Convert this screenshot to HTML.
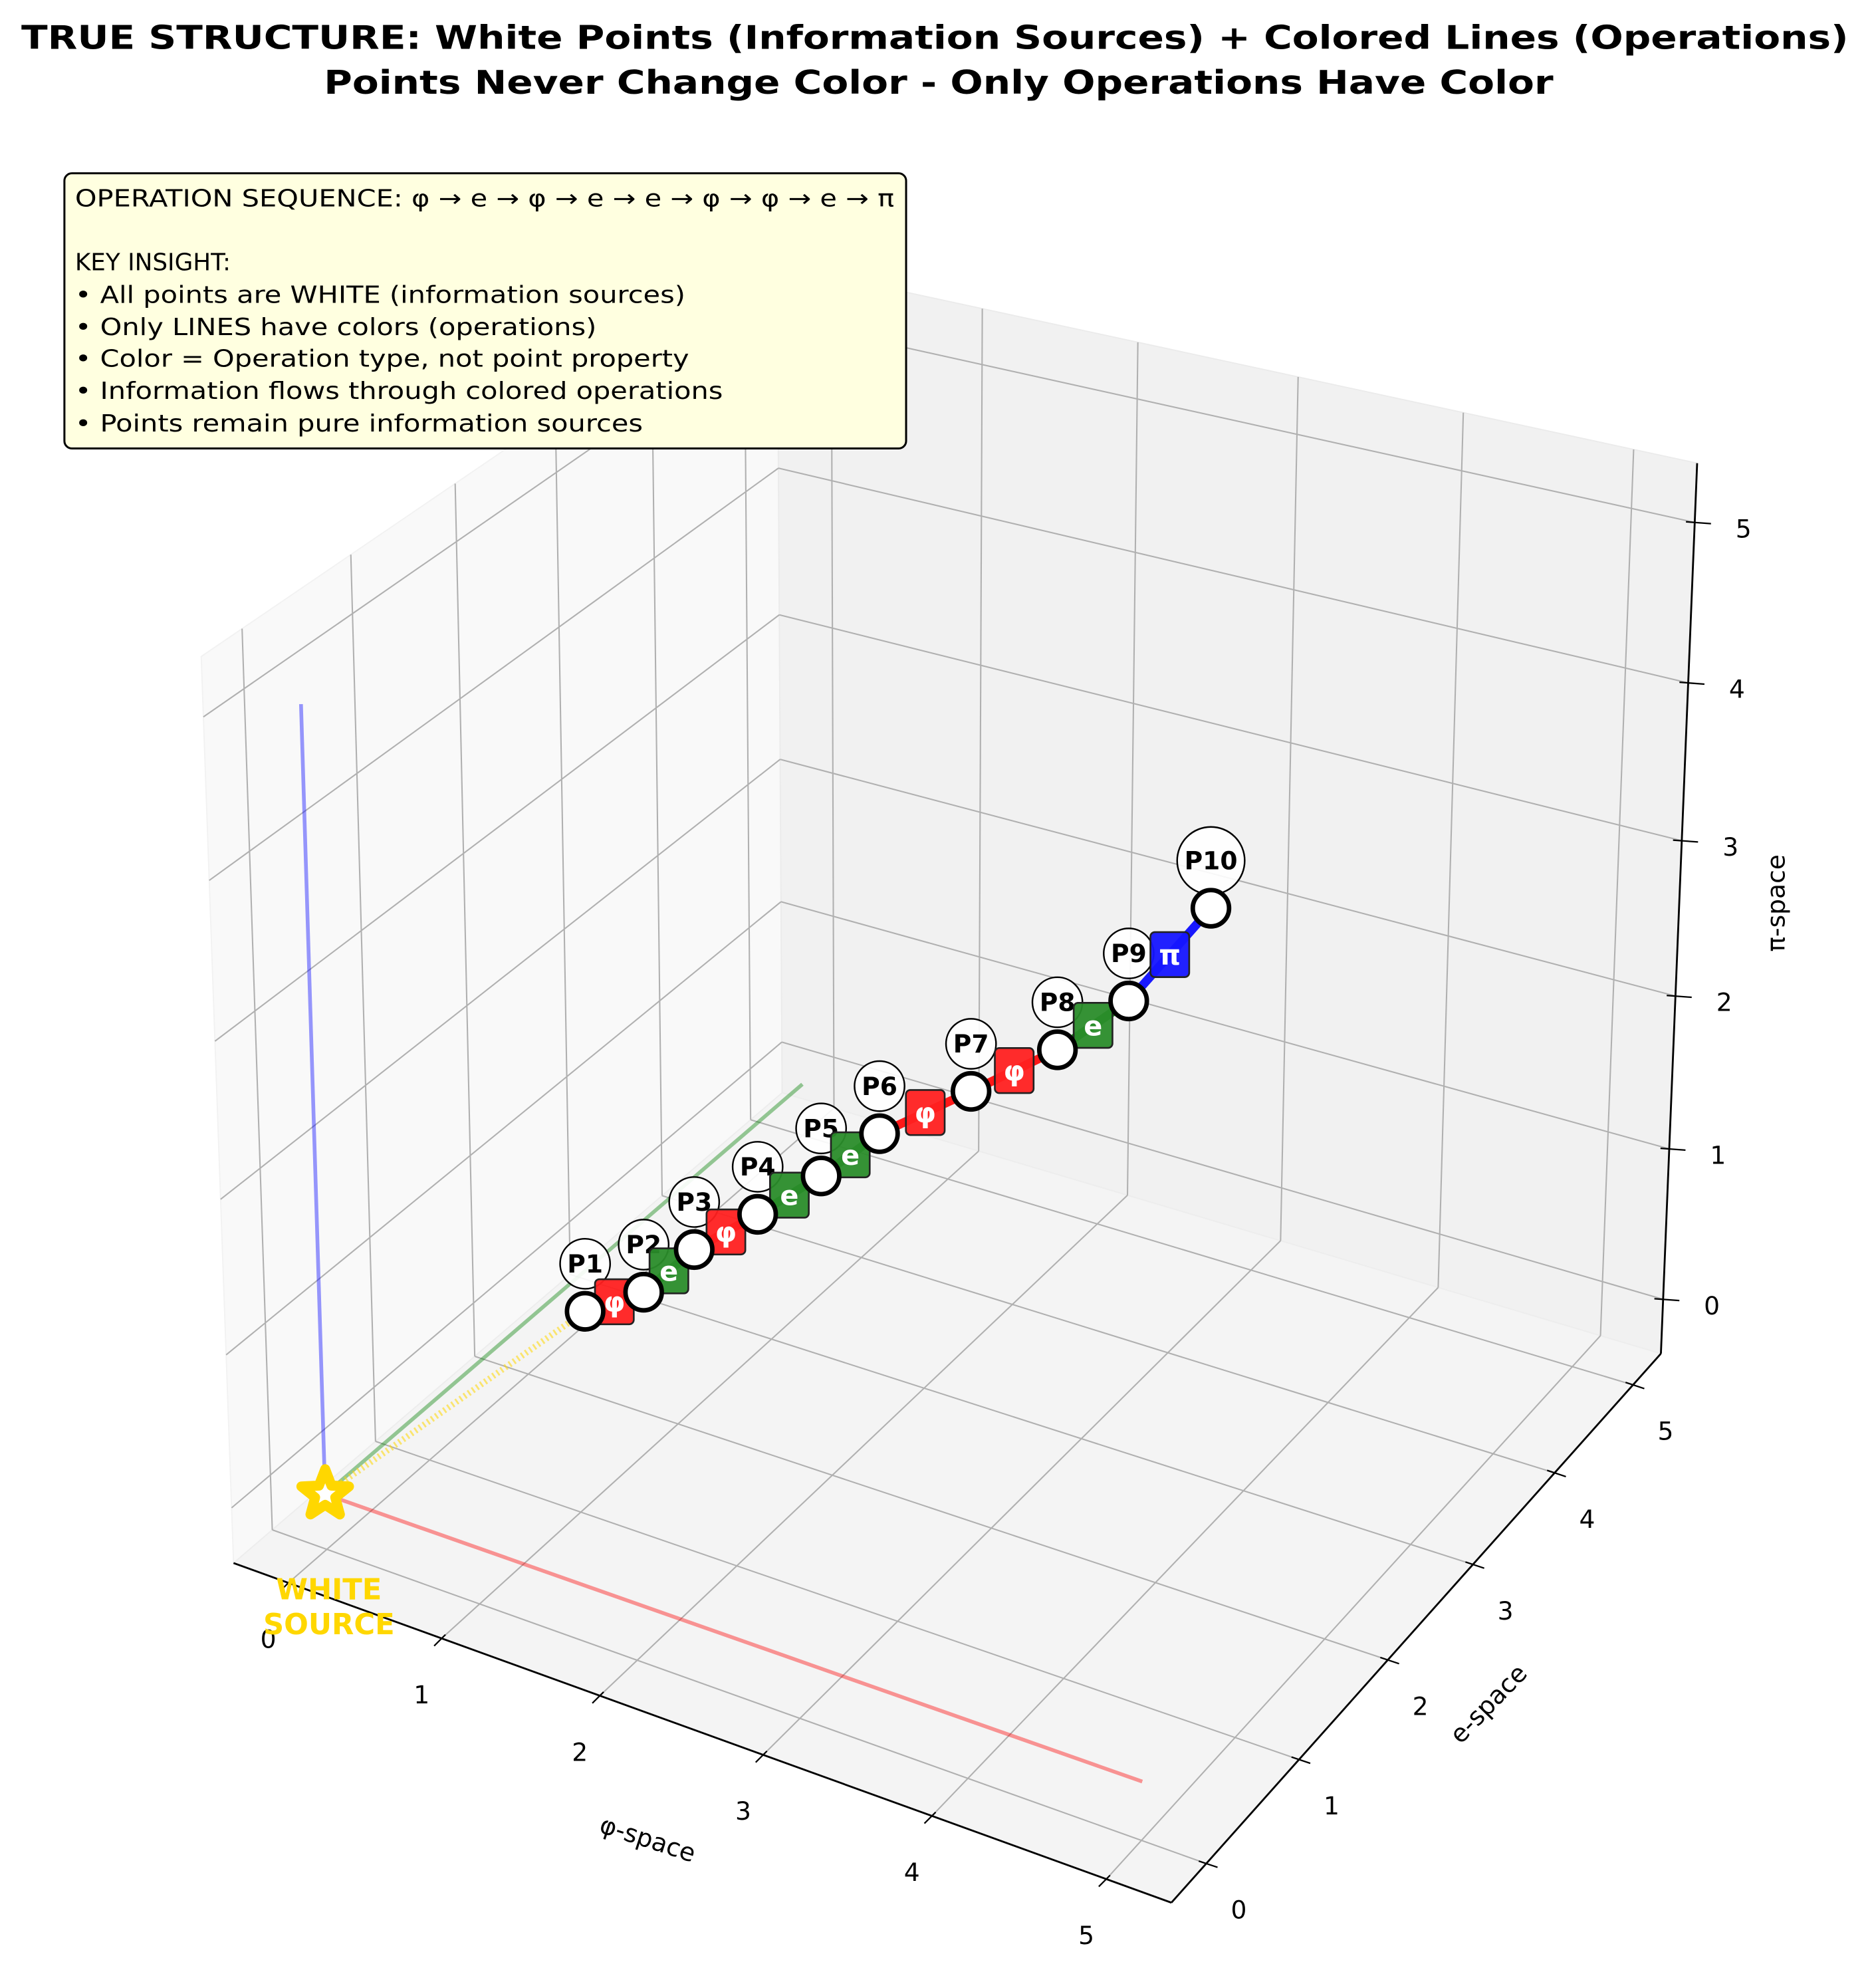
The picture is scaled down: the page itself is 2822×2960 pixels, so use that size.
<!DOCTYPE html>
<html><head><meta charset="utf-8">
<style>
html,body{margin:0;padding:0;background:#fff;}
svg{display:block;font-family:"DejaVu Sans","Liberation Sans",sans-serif;}
</style></head>
<body>
<svg id="chart" xmlns="http://www.w3.org/2000/svg" width="2822" height="2960" viewBox="0 0 1500 1573.3">
<rect x="0" y="0" width="1500" height="1573.3" fill="#ffffff"/>
<text x="17" y="39" font-size="26" font-weight="bold" textLength="1461" lengthAdjust="spacingAndGlyphs">TRUE STRUCTURE: White Points (Information Sources) + Colored Lines (Operations)</text>
<text x="259" y="75" font-size="26" font-weight="bold" textLength="983" lengthAdjust="spacingAndGlyphs">Points Never Change Color - Only Operations Have Color</text>
<g id="plot"></g>
<g>
<rect x="51.5" y="138.5" width="673" height="220" rx="6" ry="6" fill="#ffffe0" stroke="#000" stroke-width="1.6"/>
<text x="60" y="165" font-size="19" textLength="655" lengthAdjust="spacingAndGlyphs">OPERATION SEQUENCE: φ → e → φ → e → e → φ → φ → e → π</text>
<text x="60" y="216" font-size="19">KEY INSIGHT:</text>
<text x="60" y="242" font-size="19" textLength="488" lengthAdjust="spacingAndGlyphs">• All points are WHITE (information sources)</text>
<text x="60" y="268" font-size="19" textLength="417" lengthAdjust="spacingAndGlyphs">• Only LINES have colors (operations)</text>
<text x="60" y="293" font-size="19" textLength="491" lengthAdjust="spacingAndGlyphs">• Color = Operation type, not point property</text>
<text x="60" y="319" font-size="19" textLength="518" lengthAdjust="spacingAndGlyphs">• Information flows through colored operations</text>
<text x="60" y="345" font-size="19" textLength="454" lengthAdjust="spacingAndGlyphs">• Points remain pure information sources</text>
</g>
</svg>
<script>
const tickValues=[0,1,2,3,4,5];
const tickLabels=["0","1","2","3","4","5"];
const pointNames=["P1","P2","P3","P4","P5","P6","P7","P8","P9","P10"];
const phiValues=[1.03,1.26,1.46,1.71,1.96,2.19,2.55,2.89,3.17,3.49];
const eValues=[1.03,1.26,1.46,1.71,1.96,2.19,2.55,2.89,3.17,3.49];
const piValues=[0.95,1.02,1.25,1.42,1.61,1.83,2.02,2.21,2.46,2.98];
const operations=["φ","e","φ","e","e","φ","φ","e","π"];
const axisMin=-0.365, axisMax=5.365;
const refLineEnd=5;

const NS="http://www.w3.org/2000/svg";
const plot=document.getElementById('plot');
function mk(tag,attrs,parent){const el=document.createElementNS(NS,tag);for(const k in attrs)el.setAttribute(k,attrs[k]);(parent||plot).appendChild(el);return el;}

// camera fit (screen anchors of the axes box)
const L=axisMin,H=axisMax;
const anchors=[[L,L,L,190,1263],[H,L,L,932,1507],[H,H,L,1329,1099],[L,H,L,622,848],[L,L,H,158,513],[L,H,H,621,226],[H,H,H,1360,365],[0,0,0,264,1206]];
function solveCam(){
  const A=[],b=[];
  anchors.forEach(([X,Y,Z,u,v])=>{
    A.push([X,Y,Z,1,0,0,0,0,-u*X,-u*Y,-u*Z]);b.push(u);
    A.push([0,0,0,0,X,Y,Z,1,-v*X,-v*Y,-v*Z]);b.push(v);
  });
  const n=11,M=[];
  for(let i=0;i<n;i++){M.push([]);for(let j=0;j<n;j++){let s=0;for(let r=0;r<A.length;r++)s+=A[r][i]*A[r][j];M[i].push(s);}let s=0;for(let r=0;r<A.length;r++)s+=A[r][i]*b[r];M[i].push(s);}
  for(let c=0;c<n;c++){let p=c;for(let r=c+1;r<n;r++)if(Math.abs(M[r][c])>Math.abs(M[p][c]))p=r;[M[c],M[p]]=[M[p],M[c]];
    for(let r=0;r<n;r++){if(r===c)continue;const f=M[r][c]/M[c][c];for(let k=c;k<=n;k++)M[r][k]-=f*M[c][k];}}
  return M.map((row,i)=>row[n]/row[i]);
}
const P=solveCam();
function proj(x,y,z){const w=P[8]*x+P[9]*y+P[10]*z+1;return[(P[0]*x+P[1]*y+P[2]*z+P[3])/w,(P[4]*x+P[5]*y+P[6]*z+P[7])/w];}
function pts(list){return list.map(q=>proj(q[0],q[1],q[2]).map(v=>v.toFixed(2)).join(',')).join(' ');}
function seg(a,b,attrs){const p=proj(...a),q=proj(...b);return mk('line',Object.assign({x1:p[0],y1:p[1],x2:q[0],y2:q[1]},attrs));}

// panes
let el;
el=mk('polygon',{points:pts([[L,L,L],[L,H,L],[L,H,H],[L,L,H]]),fill:'#f9f9f9',stroke:'#f2f2f2','stroke-width':1});


el=mk('polygon',{points:pts([[L,H,L],[H,H,L],[H,H,H],[L,H,H]]),fill:'#f1f1f1',stroke:'#ebebeb','stroke-width':1});


el=mk('polygon',{points:pts([[L,L,L],[H,L,L],[H,H,L],[L,H,L]]),fill:'#f4f4f4',stroke:'#ededed','stroke-width':1});



// grid
const gridAttr={stroke:'#b0b0b0','stroke-width':1.1};
tickValues.forEach(k=>{
  el=seg([k,L,L],[k,H,L],gridAttr);
  
  
  el=seg([L,k,L],[H,k,L],gridAttr);
  
  
  el=seg([L,k,L],[L,k,H],gridAttr);
  
  
  el=seg([L,L,k],[L,H,k],gridAttr);
  
  
  el=seg([k,H,L],[k,H,H],gridAttr);
  
  
  el=seg([L,H,k],[H,H,k],gridAttr);
  
  
});

// axes
const axAttr={stroke:'#000','stroke-width':1.5};
el=seg([L,L,L],[H,L,L],axAttr);


el=seg([H,L,L],[H,H,L],axAttr);


el=seg([H,H,L],[H,H,H],axAttr);



tickValues.forEach((k,i)=>{
  let p=proj(k,L,L);
  el=mk('line',{x1:p[0]+3,y1:p[1]-3,x2:p[0]-6,y2:p[1]+6,stroke:'#000','stroke-width':1.2});
  
  
  el=mk('text',{x:p[0]-16,y:p[1]+52,'font-size':20,'text-anchor':'middle'});
  el.textContent=tickLabels[i];
  
  
  p=proj(H,k,L);
  el=mk('line',{x1:p[0]-6,y1:p[1]-2,x2:p[0]+9,y2:p[1]+3,stroke:'#000','stroke-width':1.2});
  
  
  el=mk('text',{x:p[0]+26,y:p[1]+44,'font-size':20,'text-anchor':'middle'});
  el.textContent=tickLabels[i];
  
  
  p=proj(H,H,k);
  el=mk('line',{x1:p[0]-7,y1:p[1]-0.5,x2:p[0]+13,y2:p[1]+1,stroke:'#000','stroke-width':1.2});
  
  
  el=mk('text',{x:p[0]+39,y:p[1]+12,'font-size':20,'text-anchor':'middle'});
  el.textContent=tickLabels[i];
  
  
});
el=mk('text',{x:518,y:1477,'font-size':20,'text-anchor':'middle',transform:'rotate(18 518 1470)'});
el.textContent='φ-space';


el=mk('text',{x:1190,y:1369,'font-size':20,'text-anchor':'middle',transform:'rotate(-46 1190 1362)'});
el.textContent='e-space';


el=mk('text',{x:1420,y:729,'font-size':20,'text-anchor':'middle',transform:'rotate(-90 1420 722)'});
el.textContent='π-space';



// reference lines from the source
el=seg([0,0,0],[refLineEnd,0,0],{stroke:'#ff0000','stroke-opacity':0.4,'stroke-width':3});


el=seg([0,0,0],[0,refLineEnd,0],{stroke:'#008000','stroke-opacity':0.4,'stroke-width':3});


el=seg([0,0,0],[0,0,refLineEnd],{stroke:'#0000ff','stroke-opacity':0.4,'stroke-width':3});


el=seg([0,0,0],[phiValues[0],eValues[0],piValues[0]],{stroke:'#ffd700','stroke-opacity':0.55,'stroke-width':5,'stroke-dasharray':'1.5 2.5'});



// source star
(function(){
  const c=proj(0,0,0);const R=20,r=8.5;let s=[];
  for(let i=0;i<10;i++){const a=-Math.PI/2+i*Math.PI/5;const rr=i%2?r:R;s.push((c[0]+rr*Math.cos(a)).toFixed(2)+','+(c[1]+rr*Math.sin(a)).toFixed(2));}
  el=mk('polygon',{points:s.join(' '),fill:'#ffffff',stroke:'#ffd700','stroke-width':8,'stroke-linejoin':'round'});
  
  
  el=mk('text',{x:c[0]+3,y:c[1]+84,'font-size':23,'font-weight':'bold',fill:'#ffd700','text-anchor':'middle'});
  el.textContent='WHITE';
  
  
  el=mk('text',{x:c[0]+3,y:c[1]+112,'font-size':23,'font-weight':'bold',fill:'#ffd700','text-anchor':'middle'});
  el.textContent='SOURCE';
  
  
})();

const opFill={"φ":"#ff2020","e":"#2a8c2a","π":"#1515ff"};
const opLine={"φ":"#ff0000","e":"#008000","π":"#0000ff"};
const P2D=pointNames.map((n,i)=>proj(phiValues[i],eValues[i],piValues[i]));

// operation lines
operations.forEach((op,i)=>{
  const a=P2D[i],b=P2D[i+1];
  el=mk('line',{x1:a[0],y1:a[1],x2:b[0],y2:b[1],stroke:opLine[op],'stroke-width':7,'stroke-opacity':0.9});
  
  
});
// point labels
pointNames.forEach((n,i)=>{
  const p=P2D[i];const big=n.length>2;const r=big?27:20;
  el=mk('circle',{cx:p[0],cy:p[1]-38,r:r,fill:'#ffffff','fill-opacity':0.9,stroke:'#000','stroke-width':1.3});
  
  
  el=mk('text',{x:p[0],y:p[1]-31,'font-size':20,'font-weight':'bold','text-anchor':'middle'});
  el.textContent=n;
  
  
});
// operation boxes
operations.forEach((op,i)=>{
  const a=P2D[i],b=P2D[i+1];const m=[(a[0]+b[0])/2,(a[1]+b[1])/2];
  el=mk('rect',{x:m[0]-15.5,y:m[1]-18,width:31,height:36,rx:3.5,ry:3.5,fill:opFill[op],'fill-opacity':0.95,stroke:'#222','stroke-width':1.4});
  
  
  el=mk('text',{x:m[0],y:m[1]+8,'font-size':22,'font-weight':'bold',fill:'#ffffff','text-anchor':'middle'});
  el.textContent=op;
  
  
});
// points
pointNames.forEach((n,i)=>{
  const p=P2D[i];
  el=mk('circle',{cx:p[0],cy:p[1],r:14.5,fill:'#ffffff',stroke:'#000','stroke-width':3.6});
  
  
});
</script>
</body></html>
